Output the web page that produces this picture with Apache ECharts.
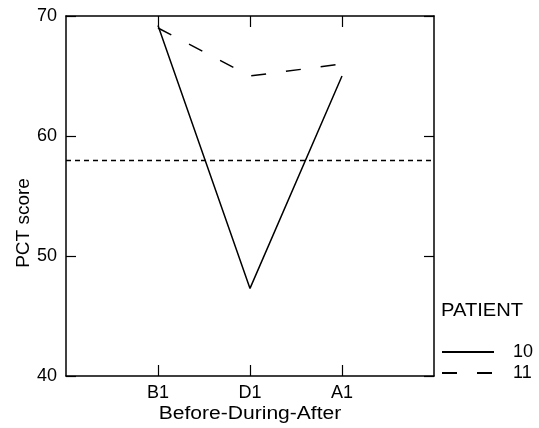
<!DOCTYPE html>
<html>
<head>
<meta charset="utf-8">
<script src="https://cdn.jsdelivr.net/npm/echarts@6/dist/echarts.min.js"></script>
<style>html,body{margin:0;padding:0;background:#fff}#c{width:539px;height:428px}</style>
</head>
<body>
<div id="c"></div>
<script>
const categories = ['B1', 'D1', 'A1'];
const patient10 = [69.2, 47.3, 65];
const patient11 = [69, 65, 66];
const referenceValue = 58;
const yTicks = [40, 50, 60, 70];
const seriesNames = ['10', '11'];

const F = 'Liberation Sans, Arial, sans-serif';
const toPts = vals => vals.map((v, i) => [i + 1, v]);
const catPositions = categories.map((c, i) => i + 1);

const chart = echarts.init(document.getElementById('c'));
const xCommon = {
  type: 'value', min: 0, max: categories.length + 1, interval: 1,
  axisLine: { show: true, onZero: false, lineStyle: { color: '#000', width: 1.5 } },
  splitLine: { show: false },
  axisTick: { show: true, inside: true, length: 11, lineStyle: { color: '#000', width: 1.2 },
    customValues: catPositions },
};
const yCommon = {
  type: 'value', min: yTicks[0], max: yTicks[yTicks.length - 1], interval: 10,
  axisLine: { show: true, onZero: false, lineStyle: { color: '#000', width: 1.5 } },
  splitLine: { show: false },
  axisTick: { show: true, inside: true, length: 10, lineStyle: { color: '#000', width: 1.2 } },
};
chart.setOption({
  animation: false,
  backgroundColor: '#fff',
  grid: { left: 66, right: 105, top: 16, bottom: 52 },
  xAxis: [
    Object.assign({}, xCommon, {
      position: 'bottom',
      axisLabel: {
        show: true, color: '#000', fontFamily: F, fontSize: 18, margin: 8,
        customValues: catPositions,
        formatter: v => categories[v - 1] || ''
      }
    }),
    Object.assign({}, xCommon, { position: 'top', axisLabel: { show: false } })
  ],
  yAxis: [
    Object.assign({}, yCommon, {
      position: 'left',
      axisLabel: { color: '#000', fontFamily: F, fontSize: 18, margin: 9 }
    }),
    Object.assign({}, yCommon, { position: 'right', axisLabel: { show: false } })
  ],
  legend: {
    orient: 'vertical', left: 441, top: 343, padding: 0,
    itemWidth: 52, itemHeight: 14, itemGap: 3,
    itemStyle: { opacity: 0 },
    textStyle: { color: '#000', fontFamily: F, fontSize: 18, lineHeight: 14, padding: [0, 0, 0, 14] },
    data: seriesNames
  },
  graphic: [
    { type: 'text', x: 441, y: 302, scaleX: 1.12,
      style: { text: 'PATIENT', fill: '#000', font: '18px ' + F, verticalAlign: 'top' } },
    { type: 'text', x: 250, y: 405, scaleX: 1.17,
      style: { text: 'Before-During-After', fill: '#000', font: '18px ' + F, align: 'center', verticalAlign: 'top' } },
    { type: 'text', x: 24, y: 223, rotation: Math.PI / 2,
      style: { text: 'PCT score', fill: '#000', font: '19px ' + F, align: 'center', verticalAlign: 'middle' } }
  ],
  series: [
    {
      name: seriesNames[0], type: 'line', data: toPts(patient10), showSymbol: false, symbol: 'none',
      lineStyle: { color: '#000', width: 1.5, type: 'solid' }, itemStyle: { color: '#000' },
      markLine: {
        silent: true, symbol: 'none', label: { show: false },
        lineStyle: { color: '#000', width: 1.3, type: [5, 4] },
        data: [{ yAxis: referenceValue }]
      }
    },
    {
      name: seriesNames[1], type: 'line', data: toPts(patient11), showSymbol: false, symbol: 'none',
      lineStyle: { color: '#000', width: 1.5, type: [15, 20] }, itemStyle: { color: '#000' }
    }
  ]
});
</script>
</body>
</html>
